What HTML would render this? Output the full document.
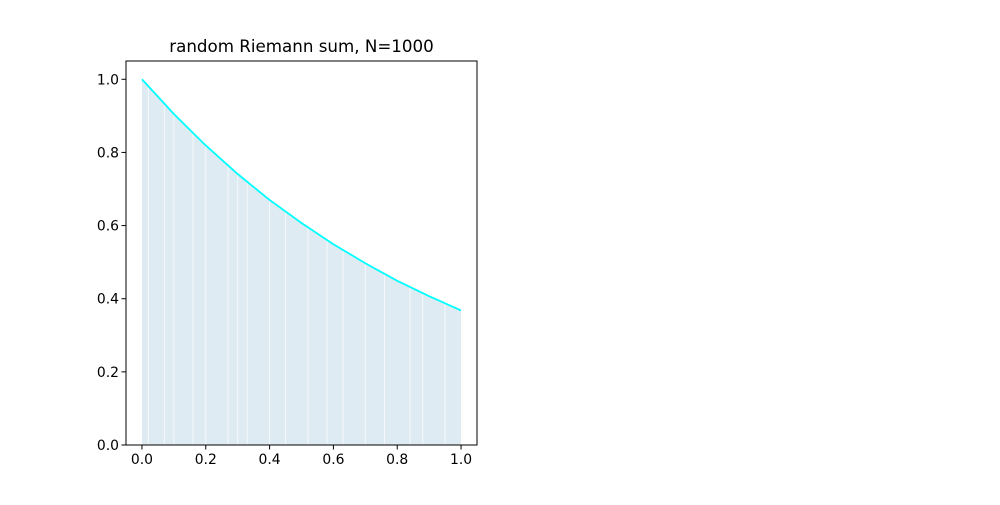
<!DOCTYPE html>
<html><head><meta charset="utf-8"><style>
body{margin:0;background:#fff}
svg text{font-family:"DejaVu Sans","Liberation Sans",sans-serif}
</style></head><body>
<svg id="chart" width="1000" height="500" xmlns="http://www.w3.org/2000/svg">
<rect width="1000" height="500" fill="#fff"/>
<g id="plot"></g>
</svg>
<script>
const xs = [0,0.1,0.2,0.3,0.4,0.5,0.6,0.7,0.8,0.9,1.0];
const ys = [1.0,0.905,0.819,0.741,0.670,0.607,0.549,0.497,0.449,0.407,0.368];
const gaps = [0.02,0.07,0.1,0.16,0.2,0.27,0.3,0.33,0.4,0.45,0.52,0.58,0.63,0.7,0.76,0.84,0.88,0.95];
const xTicks = [0,0.2,0.4,0.6,0.8,1.0];
const yTicks = [0,0.2,0.4,0.6,0.8,1.0];
const L=126,R=477,T=61,B=445;
const sx=v=>L+(v+0.05)/1.1*(R-L);
const sy=v=>B-v/1.05*(B-T);
const NS='http://www.w3.org/2000/svg';
const g=document.getElementById('plot');
function mk(tag,attrs,parent){const e=document.createElementNS(NS,tag);for(const k in attrs)e.setAttribute(k,attrs[k]);(parent||g).appendChild(e);return e;}
let pts=sx(xs[0])+','+sy(0)+' ';
xs.forEach((x,i)=>pts+=sx(x)+','+sy(ys[i])+' ');
pts+=sx(xs[xs.length-1])+','+sy(0);
const area=mk('polygon',{points:pts,fill:'#deebf3'});


gaps.forEach(x=>{const l=mk('line',{x1:sx(x),x2:sx(x),y1:sy(0),y2:sy(1),stroke:'#fff','stroke-width':1,opacity:0.7});

});
let curvePts='';xs.forEach((x,i)=>curvePts+=sx(x)+','+sy(ys[i])+' ');
const mask=mk('polygon',{points:sx(0)+','+T+' '+curvePts+sx(1)+','+T,fill:'#fff'});


const line=mk('polyline',{points:curvePts,fill:'none',stroke:'#00ffff','stroke-width':1.8});


const frame=mk('rect',{x:L,y:T,width:R-L,height:B-T,fill:'none',stroke:'#000','stroke-width':1});


xTicks.forEach(v=>{mk('line',{x1:sx(v),x2:sx(v),y1:B,y2:B+4.5,stroke:'#000'});
const t=mk('text',{x:sx(v),y:B+19,'text-anchor':'middle','font-size':13.9});t.textContent=v.toFixed(1);

});
yTicks.forEach(v=>{mk('line',{x1:L-4.5,x2:L,y1:sy(v),y2:sy(v),stroke:'#000'});
const t=mk('text',{x:L-7,y:sy(v)+5,'text-anchor':'end','font-size':13.9});t.textContent=v.toFixed(1);

});
const title=mk('text',{x:(L+R)/2,y:52,'text-anchor':'middle','font-size':16.7});
title.textContent='random Riemann sum, N=1000';


</script>
</body></html>
